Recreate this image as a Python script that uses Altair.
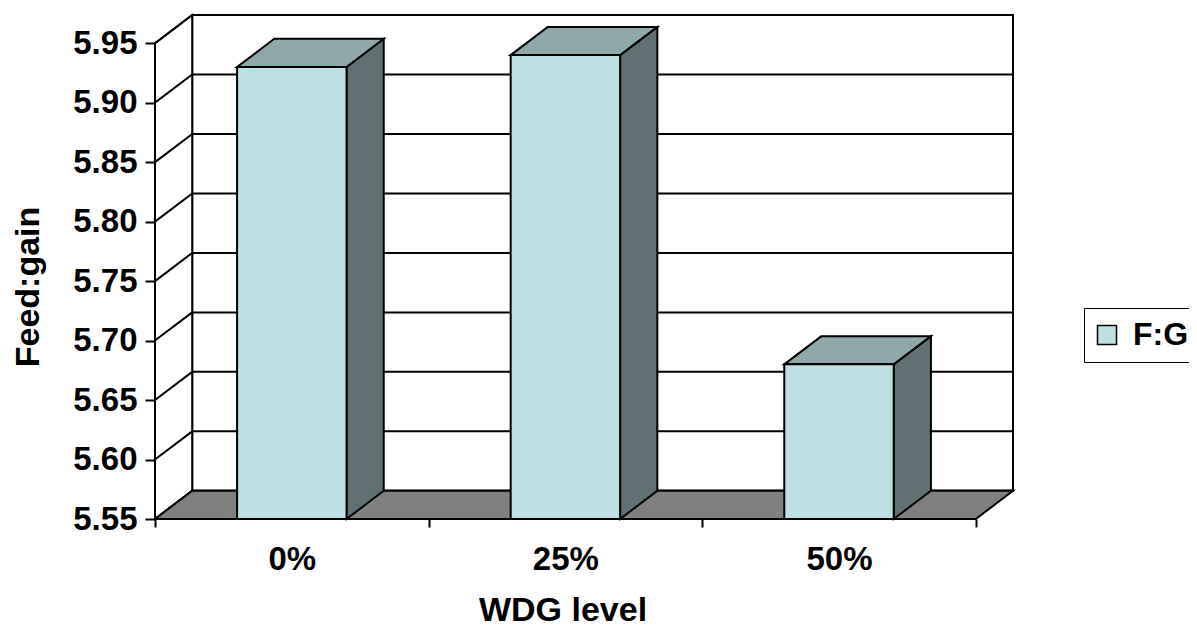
import altair as alt
import pandas as pd

# ---------------- data ----------------
categories = ["0%", "25%", "50%"]
fg_values = [5.93, 5.94, 5.68]
series_name = "F:G"
y_ticks = [5.55, 5.60, 5.65, 5.70, 5.75, 5.80, 5.85, 5.90, 5.95]
x_title = "WDG level"
y_title = "Feed:gain"

# ---------------- style constants ----------------
Y_MIN, Y_MAX = y_ticks[0], y_ticks[-1]
N = len(categories)
DX = 0.136      # 3-D depth, in category units
DY = 0.0237     # 3-D depth, in value units
BAR_W = 0.40
FONT = "Liberation Sans"
FRONT = "#BCE0E3"
TOP = "#8FA9AB"
SIDE = "#5F7173"
FLOOR = "#808080"
W, H = 858, 504
SW = 2
LBL = 33

# ---------------- derived tables ----------------
k = pd.DataFrame({"k": [0, 1]})
bars = pd.DataFrame({"cat": categories, "idx": list(range(N)), "value": fg_values,
                     "series": [series_name] * N})
bars_k = bars.merge(k, how="cross")
bars_k["c"] = bars_k["idx"] + 0.5

front = bars.copy()
front["x"] = front["idx"] + 0.5 - BAR_W / 2
front["x2"] = front["idx"] + 0.5 + BAR_W / 2
front["y"] = Y_MIN
front["y2"] = front["value"]

side = bars_k.copy()
side["x"] = side["c"] + BAR_W / 2 + side["k"] * DX
side["y"] = Y_MIN + side["k"] * DY
side["y2"] = side["value"] + side["k"] * DY

top = bars_k.copy()
top["y"] = top["value"] + top["k"] * DY
top["x"] = top["c"] - BAR_W / 2 + top["k"] * DX
top["x2"] = top["c"] + BAR_W / 2 + top["k"] * DX

wall = pd.DataFrame({"x": [DX], "x2": [N + DX], "y": [Y_MIN + DY], "y2": [Y_MAX + DY]})

left = k.copy()
left["x"] = left["k"] * DX
left["y"] = Y_MIN + left["k"] * DY
left["y2"] = Y_MAX + left["k"] * DY

floor = k.copy()
floor["y"] = Y_MIN + floor["k"] * DY
floor["x"] = floor["k"] * DX
floor["x2"] = N + floor["k"] * DX

grid = pd.DataFrame({"v": y_ticks})
grid_back = pd.DataFrame({"x": DX, "x2": N + DX, "y": grid["v"] + DY})
grid_left = pd.DataFrame({"x": 0.0, "x2": DX, "y": grid["v"], "y2": grid["v"] + DY})

# ---------------- scales & axes ----------------
xscale = alt.Scale(domain=[0, N + DX], nice=False, zero=False)
yscale = alt.Scale(domain=[Y_MIN, Y_MAX + DY], nice=False, zero=False)

cat_list = "[" + ",".join("'" + c + "'" for c in categories) + "]"
x_axis = alt.Axis(
    title=x_title, values=[i * 0.5 for i in range(2 * N + 1)],
    labelExpr=f"datum.value % 1 == 0.5 ? {cat_list}[floor(datum.value)] : ''",
    tickOpacity={"condition": {"test": "datum.value % 1 != 0", "value": 0}, "value": 1},
    grid=False, domain=False, ticks=True, tickSize=8, tickWidth=SW, tickColor="black",
    labelFont=FONT, labelFontSize=LBL, labelFontWeight="bold", labelColor="black",
    labelPadding=16, labelOverlap=False, labelFlush=False,
    titleFont=FONT, titleFontSize=34, titleFontWeight="bold", titleColor="black",
    titleX=407.5, titleY=101, titleAlign="center", titleBaseline="alphabetic",
)
y_axis = alt.Axis(
    title=y_title, values=y_ticks, format=".2f",
    grid=False, domain=False, tickSize=10, tickWidth=SW, tickColor="black",
    labelFont=FONT, labelFontSize=LBL, labelFontWeight="bold", labelColor="black",
    labelPadding=8, labelOverlap=False, labelFlush=False,
    titleFont=FONT, titleFontSize=34, titleFontWeight="bold", titleColor="black",
    titleAngle=270, titleX=-117, titleY=271.5, titleAlign="center", titleBaseline="alphabetic",
)


def X(f="x"):
    return alt.X(f"{f}:Q", scale=xscale, axis=x_axis)


def Y(f="y"):
    return alt.Y(f"{f}:Q", scale=yscale, axis=y_axis)


# ---------------- layers ----------------
back_wall = alt.Chart(wall).mark_rect(fill="white", stroke="black", strokeWidth=SW).encode(
    x=X(), x2="x2:Q", y=Y(), y2="y2:Q")

left_wall = alt.Chart(left).mark_area(orient="vertical", fill="white", stroke="black",
                                      strokeWidth=SW).encode(x=X(), y=Y(), y2="y2:Q")

back_grid = alt.Chart(grid_back).mark_rule(color="black", strokeWidth=SW).encode(
    x=X(), x2="x2:Q", y=Y())

left_grid = alt.Chart(grid_left).mark_rule(color="black", strokeWidth=SW).encode(
    x=X(), x2="x2:Q", y=Y(), y2="y2:Q")

floor_l = alt.Chart(floor).mark_area(orient="horizontal", fill=FLOOR, stroke="black",
                                     strokeWidth=SW).encode(y=Y(), x=X(), x2="x2:Q")

side_l = alt.Chart(side).mark_area(orient="vertical", fill=SIDE, stroke="black",
                                   strokeWidth=SW).encode(x=X(), y=Y(), y2="y2:Q", detail="cat:N")

top_l = alt.Chart(top).mark_area(orient="horizontal", fill=TOP, stroke="black",
                                 strokeWidth=SW).encode(y=Y(), x=X(), x2="x2:Q", detail="cat:N")

front_l = alt.Chart(front).mark_rect(stroke="black", strokeWidth=SW, opacity=1).encode(
    x=X(), x2="x2:Q", y=Y(), y2="y2:Q",
    color=alt.Color("series:N", scale=alt.Scale(domain=[series_name], range=[FRONT]),
                    legend=alt.Legend(
                        title=None, orient="none", legendX=929, legendY=293,
                        symbolType="square", symbolSize=361, symbolStrokeColor="black",
                        symbolStrokeWidth=1.5, symbolOpacity=1, symbolOffset=-4,
                        labelFont=FONT, labelFontSize=32, labelFontWeight="bold",
                        labelColor="black", labelOffset=10, padding=11,
                        strokeColor="black", fillColor="white")),
)

chart = alt.layer(back_wall, left_wall, back_grid, left_grid, floor_l, side_l, top_l, front_l).properties(
    width=W, height=H,
    autosize=alt.AutoSizeParams(type="none"),
    padding={"left": 147, "top": 7, "right": 176, "bottom": 108},
    background="white",
).configure_view(stroke=None)

chart.save("out.html", embed_options={"renderer": "svg", "actions": False})
